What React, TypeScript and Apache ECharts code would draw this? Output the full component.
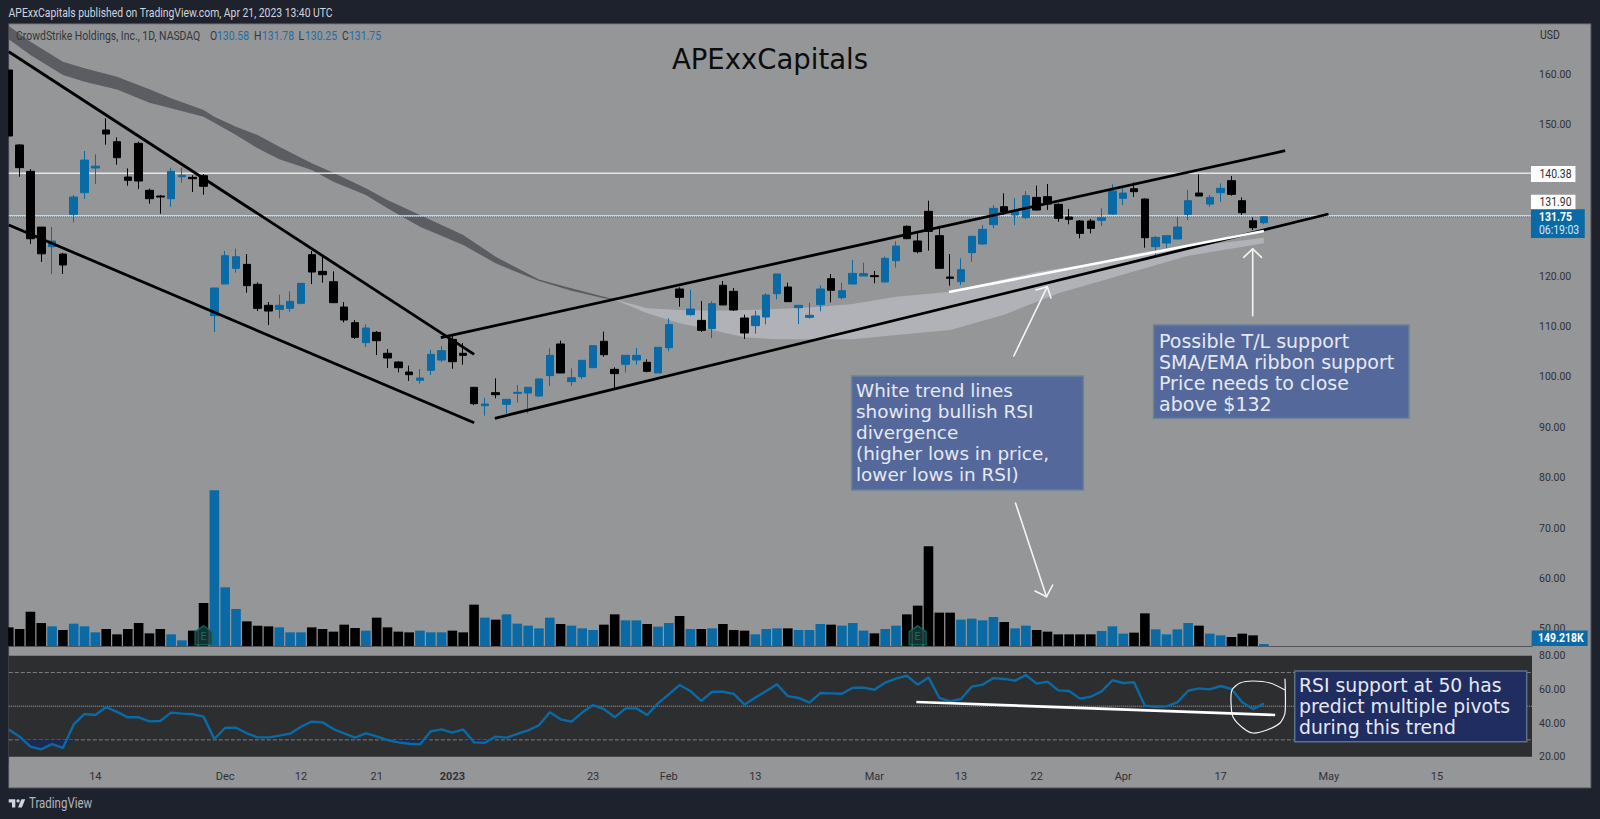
import React, { useEffect, useRef } from "react";
import * as echarts from "echarts";

const opens = [160.87,146.0,140.76,129.7,125.82,124.36,132.23,136.53,141.43,148.97,146.65,139.64,146.32,137.0,135.87,135.34,139.7,139.57,139.9,112.13,118.41,121.52,122.31,118.35,114.18,113.38,113.58,114.58,124.23,120.92,118.87,113.85,110.74,106.77,108.82,104.66,102.93,100.95,99.3,101.28,103.33,107.43,104.66,97.91,94.27,96.85,94.54,96.72,96.78,96.19,100.23,106.51,99.04,100.03,101.81,107.04,101.48,102.48,103.34,102.87,100.76,105.78,117.42,112.33,111.2,109.55,118.15,116.96,111.67,110.15,111.87,116.5,117.82,113.72,111.8,114.31,119.47,115.7,118.41,120.0,120.07,118.81,123.04,129.86,126.95,132.83,128.0,119.8,118.87,124.63,126.35,130.18,133.75,132.1,131.57,135.6,135.74,134.22,131.7,130.91,130.91,131.04,132.3,135.41,137.32,135.27,125.82,126.54,127.34,132.23,136.46,134.28,136.53,138.91,134.94,130.97,130.58];
const highs = [160.87,146.2,141.2,129.7,129.7,124.6,136.07,144.8,144.14,151.28,147.5,141.36,146.65,137.33,136.07,141.5,141.5,140.0,140.24,117.62,124.96,125.42,124.36,118.74,114.84,116.3,116.96,118.54,124.96,123.83,120.92,114.84,111.27,110.4,109.08,105.52,103.13,102.21,101.55,105.32,106.11,108.09,106.7,97.91,95.86,99.69,95.53,98.37,97.91,99.7,105.65,107.17,101.68,103.27,106.18,108.96,101.88,104.26,105.72,103.47,105.85,111.6,117.75,117.29,115.04,114.98,119.01,117.62,112.33,113.12,116.56,120.4,118.68,114.18,114.71,118.15,120.4,118.68,123.18,122.65,121.0,123.84,126.88,130.06,128.47,134.95,129.99,124.37,123.5,128.0,130.1,134.08,136.4,135.4,136.86,137.92,138.25,134.41,133.29,131.11,131.3,133.42,138.2,137.39,138.58,135.4,127.93,128.0,131.77,137.06,140.17,136.07,138.38,139.84,135.6,131.64,131.78];
const lows = [147.78,139.7,126.35,122.8,120.4,120.4,130.65,135.27,138.25,146.06,142.09,137.92,137.26,134.35,132.37,133.75,138.5,136.66,136.13,108.89,118.41,120.66,116.69,113.05,110.28,111.6,112.92,114.38,118.41,118.68,114.71,110.8,107.5,105.91,104.32,101.74,100.88,99.17,98.64,100.36,102.93,101.61,102.41,94.4,92.29,95.73,92.55,94.87,92.75,96.0,98.18,100.76,98.24,99.57,101.81,103.99,97.71,100.89,102.41,100.89,100.76,105.06,113.92,112.13,108.89,107.7,114.25,113.06,107.5,108.56,110.41,115.37,114.91,110.48,111.54,112.99,114.78,115.37,118.41,120.0,118.55,118.81,121.66,127.28,124.5,125.03,121.52,118.08,118.2,122.84,126.15,129.45,132.1,130.1,131.3,132.96,133.09,130.78,130.25,127.47,128.46,129.92,132.1,134.08,135.67,125.62,124.03,125.49,127.34,131.11,135.87,133.75,134.75,135.94,132.1,129.12,130.25];
const closes = [147.78,141.5,127.4,124.4,126.94,122.18,135.67,143.0,141.8,148.17,143.48,138.98,138.85,135.34,135.67,140.76,139.97,139.3,137.8,117.62,124.03,123.83,118.08,113.58,113.05,114.18,114.97,118.54,120.79,120.26,114.71,111.27,107.83,109.68,107.17,103.73,101.81,100.42,99.76,104.46,105.18,103.0,104.26,94.67,94.6,96.45,95.53,96.92,97.91,99.57,104.26,100.76,99.83,103.27,106.18,104.39,100.63,104.26,104.26,101.09,105.85,110.35,115.77,113.45,109.22,114.51,114.25,113.26,108.69,112.07,116.23,120.4,114.91,114.18,112.2,117.42,117.16,117.09,120.53,120.47,119.87,123.51,125.95,127.41,124.83,128.86,121.52,119.54,121.25,127.87,129.26,133.42,132.76,132.76,135.94,133.09,134.28,131.44,131.24,128.46,129.45,131.57,136.86,136.46,136.73,127.6,127.67,128.0,129.72,134.94,135.87,135.6,137.39,136.2,132.56,129.59,131.75];
const volumes = [3.73,3.4,6.87,4.6,3.93,3.2,4.47,3.93,2.73,3.4,2.33,3.4,4.6,2.53,3.4,2.33,1.13,3.07,8.6,31.13,11.73,7.4,4.93,4.07,3.93,3.73,2.73,2.73,3.73,3.4,2.87,4.27,3.6,3.07,5.67,3.73,2.87,2.73,3.07,2.73,2.73,3.07,2.73,8.27,5.67,5.27,6.33,4.47,4.07,3.53,5.67,4.4,4.07,3.53,3.2,4.27,6.33,5.13,5.13,4.4,3.87,4.6,6.0,3.4,3.4,3.53,4.4,3.2,3.07,2.33,3.4,3.53,3.53,3.2,3.2,4.4,4.27,4.07,4.6,3.07,2.53,3.4,4.07,6.33,8.07,19.93,6.67,6.67,5.27,5.47,5.13,5.8,4.8,3.53,4.07,3.2,2.87,2.33,2.33,2.33,2.33,3.0,3.93,2.47,2.67,6.53,3.33,2.33,3.33,4.6,4.07,2.47,2.13,1.8,2.47,2.13,0.149];
const rsi = [36.2,31.9,26,24.4,27.5,25.2,39.2,45.4,44.8,49.5,46.6,43.4,43.4,41,41.2,46.2,45.6,45.2,43.8,30.5,37.2,37.2,33.9,31.5,31.5,32.5,33.7,37.8,40.8,40.4,36.4,33.9,31.3,33.9,32.1,29.9,28.5,27.7,27.3,35.1,36.2,34.3,36.2,28.5,28.3,31.9,31.3,33.5,35.6,38.7,46.35,42.2,40.8,46.2,50.7,48.3,43.4,48.7,48.7,44.8,51.7,57,62.6,59,53.1,58.6,58.6,57.3,50.9,55.1,59,63,56,54.9,52.1,57.8,57.6,57.4,61,61,59.8,64,66.4,68.1,62.8,67.1,55,52.9,54.3,61.6,62.8,66.7,66.2,65.2,68.5,63.4,64.6,59.4,59,54.5,55.6,58.8,65.4,63.8,64.2,50.3,49.7,49.9,52.3,59.2,60.6,60,62,60.2,52.3,48.3,51.5];

const tickIndex = [8,20,27,34,41,54,61,69,80,88,95,103,112,122,132];
const tickLabels = ["14","Dec","12","21","2023","23","Feb","13","Mar","13","22","Apr","17","May","15"];
const priceTicks = [50,60,70,80,90,100,110,120,150,160];
const rsiTicks = [20,40,60,80];

const darkRibbonIdx = [0,2,5,7,10,13,15,18,19,21,23,25,28,30,33,35,38,42,45,49,52,55,56];
const darkRibbonTop = [169.6,166.5,162.5,161.2,159.55,157.03,155.25,152.93,151.61,149.63,147.97,145.66,142.35,140.5,137.39,135.08,132.1,128.13,123.83,119.3,117.55,115.9,115.37];
const darkRibbonBottom = [166.96,163.85,159.9,158.55,157.0,154.4,153.27,151.61,150.42,147.97,145.33,143.15,141.03,138.72,136.07,133.43,129.79,126.15,122.51,119.0,117.09,115.57,115.3];
const lightTopIdx = [56,59,62,65,68,71,75,78,82,87,91,95,100,105,110,116];
const lightTop = [115.37,113.59,113.26,113.12,113.26,113.45,113.92,114.45,115.9,116.9,118.9,120.8,122.5,124.8,126,127.6];
const lightBottomIdx = [56,59,62,65,68,71,75,78,82,87,92,97,103,109,116];
const lightBottom = [115.3,112.6,110.61,109.29,107.83,107.44,107.44,107.44,108.3,109.3,112.3,116.6,120.3,124,126.5];

const trendDownUpper = [[0,164.5],[43.01,104.46]];
const trendDownLower = [[0,130.12],[43.01,90.89]];
const trendUpUpper = [[39.93,107.76],[117.97,144.86]];
const trendUpLower = [[44.92,91.77],[121.97,132.3]];
const whitePriceLine = [[86.89,116.83],[116,128.93]];
const whiteRsiLine = [[83.88,52.5],[117.04,44.8]];
const earningsPoints = [[18,2.14],[84,2.14]];

const X_MAX = 140.78;
const BLUE = "#0a6aa5";
const DARK = "#1e222d";
const GRAY = "#959698";
const UI = "Roboto,sans-serif";
const NOTE = '"DejaVu Sans",sans-serif';

const LOGO = "M14 6H2v6h6v9h6V6zm12 15h-7l6-15h7l-6 15zm-7-9a3 3 0 1 0 0-6 3 3 0 0 0 0 6z";

function txt(x: number, y: number, text: string, fill: string, font: string, extra: any = {}, scaleX = 1) {
  return { type: "text", x, y, scaleX, z: 50, silent: true, style: { text, fill, font, textVerticalAlign: "middle", ...extra } };
}
function box(x: number, y: number, w: number, h: number, fill: string, stroke: string) {
  return { type: "rect", z: 40, silent: true, shape: { x, y, width: w, height: h }, style: { fill, stroke, lineWidth: 1.5 } };
}
function note(x: number, y: number, text: string, size = 18.4) {
  return { type: "text", x, y, z: 50, silent: true, style: { text, fill: "#e6e9f2", font: `${size}px ${NOTE}`, lineHeight: 21, textVerticalAlign: "top" } };
}
function stroke(points: number[][], smooth = 0, width = 1.6) {
  return { type: "polyline", z: 45, silent: true, shape: { points, smooth }, style: { stroke: "#f4f4f4", lineWidth: width, fill: "none", lineCap: "round", lineJoin: "round" } };
}
function seg(name: string, data: number[][], color: string, width: number, axis = 0, yAxis = 0, type = "solid", z = 10) {
  return { type: "line", name, xAxisIndex: axis, yAxisIndex: yAxis, data, symbol: "none", silent: true, z, lineStyle: { color, width, type } };
}
function ribbon(name: string, top: number[][], bottom: number[][], fill: string) {
  return {
    type: "custom", name, xAxisIndex: 0, yAxisIndex: 0, clip: true, silent: true, z: 1,
    data: [[0, 100]], encode: { x: 0, y: 1 },
    renderItem: (_p: any, api: any) => ({
      type: "polygon",
      shape: { points: [...top, ...[...bottom].reverse()].map((d) => api.coord(d)) },
      style: { fill },
    }),
  };
}

export default function App() {
  const ref = useRef<HTMLDivElement>(null);
  useEffect(() => {
    if (!ref.current) return;
    echarts.graphic.registerShape("tvlogo", echarts.graphic.extendPath(LOGO as any, {}) as any);
    const chart = echarts.init(ref.current, undefined, { renderer: "svg" });
    const hiddenX = { type: "value", min: 0, max: X_MAX, splitLine: { show: false }, axisTick: { show: false } };
    const candle = opens.map((o, i) => [i, o, closes[i], lows[i], highs[i]]);
    const volumeData = volumes.map((v, i) => ({
      value: [i, v],
      itemStyle: { color: closes[i] > opens[i] ? BLUE : "#000000" },
    }));
    const S = 0.87;
    const small = `12px ${UI}`;
    chart.setOption({
      animation: false,
      backgroundColor: DARK,
      textStyle: { fontFamily: UI },
      grid: [
        { left: 8.8, top: 23.7, width: 1523.2, height: 622.3, show: false },
        { left: 8.8, top: 655.7, width: 1523.2, height: 101, show: true, backgroundColor: "#2d2e30", borderWidth: 0 },
      ],
      xAxis: [
        { ...hiddenX, gridIndex: 0, axisLabel: { show: false }, axisLine: { show: true, onZero: false, lineStyle: { color: "#54565c", width: 1 } } },
        {
          ...hiddenX, gridIndex: 1, axisLine: { show: false },
          axisLabel: {
            show: true, margin: 14, color: "#2f3136", fontSize: 11, fontFamily: UI, customValues: tickIndex,
            formatter: (v: number) => {
              const s = tickLabels[tickIndex.indexOf(v)] ?? "";
              return s === "2023" ? `{b|${s}}` : s;
            },
            rich: { b: { fontWeight: 700, fontSize: 11, fontFamily: UI, color: "#2f3136" } },
          },
        },
      ],
      yAxis: [
        {
          type: "value", gridIndex: 0, position: "right", min: 46.59, max: 170.06, splitLine: { show: false },
          axisLine: { show: false }, axisTick: { show: false },
          axisLabel: { color: "#2f3136", margin: 7, fontSize: 10.5, fontFamily: UI, customValues: priceTicks, formatter: (v: number) => v.toFixed(2) },
        },
        { type: "value", gridIndex: 0, min: 0, max: 124.46, show: false, splitLine: { show: false } },
        {
          type: "value", gridIndex: 1, position: "right", min: 20, max: 80, splitLine: { show: false },
          axisLine: { show: false }, axisTick: { show: false },
          axisLabel: { color: "#2f3136", margin: 7, fontSize: 10.5, fontFamily: UI, customValues: rsiTicks, formatter: (v: number) => v.toFixed(2) },
        },
      ],
      series: [
        ribbon("ribbonDark", darkRibbonIdx.map((d, i) => [d, darkRibbonTop[i]]), darkRibbonIdx.map((d, i) => [d, darkRibbonBottom[i]]), "#5c5d63"),
        ribbon("ribbonLight", lightTopIdx.map((d, i) => [d, lightTop[i]]), lightBottomIdx.map((d, i) => [d, lightBottom[i]]), "#b1b2b7"),
        {
          type: "bar", name: "Volume", xAxisIndex: 0, yAxisIndex: 1, barWidth: 9.6, barMinHeight: 2, silent: true, z: 2,
          data: volumeData,
        },
        {
          type: "scatter", name: "Earnings", xAxisIndex: 0, yAxisIndex: 1, silent: true, z: 3, data: earningsPoints,
          symbol: "path://M9 0 L18 6 L18 19 L0 19 L0 6 Z", symbolSize: [17, 19],
          itemStyle: { color: "#1a3c3e", borderColor: "#0f6e61", borderWidth: 1.5 },
          label: { show: true, position: "inside", formatter: "E", color: "#12806f", fontSize: 11, fontFamily: UI, offset: [0, 1] },
        },
        {
          type: "candlestick", name: "CRWD", xAxisIndex: 0, yAxisIndex: 0, barWidth: 8, silent: true, z: 5,
          data: candle,
          itemStyle: { color: BLUE, color0: "#000000", borderColor: BLUE, borderColor0: "#000000", borderWidth: 1 },
        },
        seg("level140", [[0, 140.38], [X_MAX, 140.38]], "#e6e6e6", 1.6, 0, 0, "solid", 4),
        seg("level132", [[0, 131.9], [X_MAX, 131.9]], "#e6e6e6", 1.6, 0, 0, "solid", 4),
        seg("last", [[0, 131.75], [X_MAX, 131.75]], BLUE, 1, 0, 0, "dotted", 4),
        seg("trend1", trendDownUpper, "#000000", 2.8),
        seg("trend2", trendDownLower, "#000000", 2.8),
        seg("trend3", trendUpUpper, "#000000", 2.8),
        seg("trend4", trendUpLower, "#000000", 2.8),
        seg("whitePrice", whitePriceLine, "#ffffff", 2.6, 0, 0, "solid", 11),
        seg("rsi70", [[0, 70], [X_MAX, 70]], "#7c7e84", 1, 1, 2, "dashed", 2),
        seg("rsi50", [[0, 50], [X_MAX, 50]], "#a4a6aa", 1, 1, 2, "dotted", 2),
        seg("rsi30", [[0, 30], [X_MAX, 30]], "#7c7e84", 1, 1, 2, "dashed", 2),
        {
          type: "line", name: "RSI oversold", xAxisIndex: 1, yAxisIndex: 2, symbol: "none", silent: true, z: 3,
          data: rsi.map((v, i) => [i, Math.min(v, 30)]), lineStyle: { width: 0 },
          areaStyle: { origin: 30, color: "#1c2a52", opacity: 1 },
        },
        seg("RSI", rsi.map((v, i) => [i, v]), BLUE, 2.4, 1, 2, "solid", 5),
        seg("whiteRsi", whiteRsiLine, "#ffffff", 2.6, 1, 2, "solid", 6),
      ],
      graphic: {
        elements: [
          { type: "rect", z: -10, silent: true, shape: { x: 8.6, y: 23.7, width: 1582.4, height: 764.3 }, style: { fill: GRAY, stroke: "#4a4e58", lineWidth: 1 } },
          { type: "rect", z: 30, silent: true, shape: { x: 0, y: 24, width: 8.2, height: 740 }, style: { fill: DARK } },
          txt(8.6, 13, "APExxCapitals published on TradingView.com, Apr 21, 2023 13:40 UTC", "#d1d4dc", small, {}, 0.865),
          txt(16, 36, "CrowdStrike Holdings, Inc., 1D, NASDAQ", "#33363d", small, {}, S),
          txt(210, 36, "O", "#33363d", small, {}, S), txt(217, 36, "130.58", "#1c6fa6", small, {}, S),
          txt(254, 36, "H", "#33363d", small, {}, S), txt(262, 36, "131.78", "#1c6fa6", small, {}, S),
          txt(298.5, 36, "L", "#33363d", small, {}, S), txt(305, 36, "130.25", "#1c6fa6", small, {}, S),
          txt(342, 36, "C", "#33363d", small, {}, S), txt(349, 36, "131.75", "#1c6fa6", small, {}, S),
          txt(770, 59, "APExxCapitals", "#0c0c0c", `27.5px ${NOTE}`, { textAlign: "center" }),
          txt(1540, 35.5, "USD", "#2f3136", small, {}, S),
          box(1531.7, 166.7, 43, 14.6, "#ffffff", "#ffffff"),
          txt(1539.5, 174, "140.38", "#2f3136", small, {}, S),
          box(1531.7, 195.4, 43, 14.6, "#ffffff", "#ffffff"),
          txt(1539.5, 202.7, "131.90", "#2f3136", small, {}, S),
          box(1531.7, 210, 52.3, 27.3, BLUE, BLUE),
          txt(1539, 217, "131.75", "#ffffff", `bold 12px ${UI}`, {}, S),
          txt(1539, 230, "06:19:03", "#d8e6f2", small, {}, S),
          box(1532.4, 631.3, 54.5, 14, BLUE, BLUE),
          txt(1538, 638.6, "149.218K", "#ffffff", `bold 12px ${UI}`, {}, S),
          stroke([[1013.8, 356], [1047.3, 286.7]]),
          stroke([[1036, 290], [1047.3, 286.7], [1051, 298]]),
          stroke([[1252.7, 315.7], [1252.7, 248.8]]),
          stroke([[1243.7, 257.3], [1252.7, 248.8], [1261.6, 257.3]]),
          stroke([[1015.5, 503], [1046.5, 596.7]]),
          stroke([[1035, 591], [1046.5, 596.7], [1052.7, 585]]),
          stroke([[1285, 679], [1285, 713], [1280, 723], [1267, 730], [1253, 733], [1243, 728], [1233, 717], [1231, 703], [1232, 690], [1240, 683], [1253, 681], [1270, 683], [1285, 690]], 0.25, 1.2),
          box(851.7, 376, 231.6, 114, "#54689b", "#6b8296"),
          note(856, 380, "White trend lines\nshowing bullish RSI\ndivergence\n(higher lows in price,\nlower lows in RSI)"),
          box(1153.6, 325, 255.4, 93.3, "#54689b", "#6b8296"),
          note(1159, 330, "Possible T/L support\nSMA/EMA ribbon support\nPrice needs to close\nabove $132", 19),
          box(1294.7, 671, 232, 70.7, "#1f2d60", "#5c7089"),
          note(1299, 675, "RSI support at 50 has\npredict multiple pivots\nduring this trend", 18.8),
          { type: "tvlogo", z: 50, silent: true, x: 7.6, y: 796, scaleX: 0.55, scaleY: 0.55, style: { fill: "#d1d4dc" } },
          txt(29, 803, "TradingView", "#b2b5be", `14px ${UI}`, {}, 0.82),
        ],
      },
    });
    return () => chart.dispose();
  }, []);
  return <div ref={ref} style={{ position: "fixed", left: 0, top: 0, width: 1600, height: 819 }} />;
}
